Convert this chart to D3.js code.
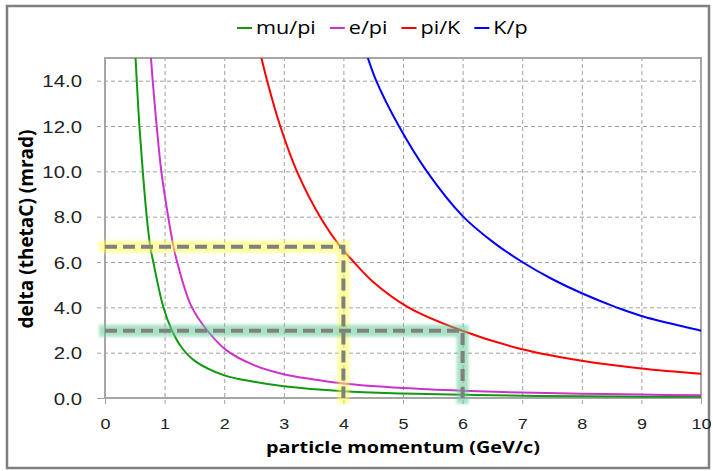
<!DOCTYPE html>
<html lang="en">
<head>
<meta charset="UTF-8">
<title>delta thetaC vs momentum</title>
<style>
    html, body { margin: 0; padding: 0; background: #fff; }
    svg { display: block; font-family: "Open Sans", Lato, sans-serif; }
    .grid .tick line { stroke: #a0a0a0; stroke-width: 1; stroke-dasharray: 4,3; }
    .grid .domain { display: none; }
    .grid text { fill: #222; }
    .curve { fill: none; stroke-width: 2; }
</style>
</head>
<body>
<svg width="713" height="471"></svg>
<script src="https://d3js.org/d3.v7.min.js"></script>
<script>
// values: [momentum GeV/c, delta thetaC mrad]
const momentumTicks = [0, 1, 2, 3, 4, 5, 6, 7, 8, 9, 10];
const deltaTicks = [0, 2, 4, 6, 8, 10, 12, 14];
const seriesNames = ["mu/pi", "e/pi", "pi/K", "K/p"];

const muPi = [[0.48,16.6],[0.533,14.0],[0.577,12.0],[0.634,10.0],[0.70,8.0],[0.76,6.67],[0.81,6.0],
    [0.98,4.0],[1.12,3.0],[1.28,2.25],[1.5,1.65],[2,1.0],[2.5,0.72],[3,0.52],[4,0.3],[5,0.2],
    [6,0.14],[7,0.1],[8,0.08],[9,0.06],[10,0.05]];
const ePi = [[0.75,15.8],[0.80,14.0],[0.867,12.0],[0.945,10.0],[1.06,8.0],[1.15,6.67],[1.21,6.0],
    [1.44,4.1],[1.71,3.0],[2.04,2.1],[2.5,1.45],[3,1.05],[3.5,0.82],[4,0.64],[5,0.44],[6,0.32],
    [7,0.24],[8,0.19],[9,0.15],[10,0.12]];
const piK = [[2.58,15.5],[2.72,14.0],[2.94,12.0],[3.22,10.0],[3.64,7.85],[3.95,6.67],[4.14,6.1],
    [4.5,5.12],[5.09,4.0],[5.96,3.0],[7,2.15],[8,1.64],[9,1.3],[10,1.07]];
const kP = [[4.35,15.5],[4.55,14.0],[4.93,12.0],[5.40,10.0],[6.01,8.0],[6.5,6.9],[7,6.0],
    [7.5,5.25],[8,4.62],[8.58,4.0],[9,3.62],[10,2.97]];

// the two marked working points
const markMomentum = [4, 6];
const markDelta = [6.67, 2.97];

const curveColors = ["#119911", "#cc33cc", "#ff0000", "#0000ff"];
const glowColors = ["#ffff55", "#66cc99"];
const stretch = 1.2; // lettering in the picture is drawn wide

const svg = d3.select("svg");
const x = d3.scaleLinear().domain([0, 10]).range([105, 701]);
const y = d3.scaleLinear().domain([0, 15]).range([398, 58]);

// outer frame
svg.append("rect")
    .attr("x", 7).attr("y", 6).attr("width", 702).attr("height", 462)
    .attr("fill", "#fff").attr("stroke", "#7f7f7f").attr("stroke-width", 2.5);

const defs = svg.append("defs");
defs.append("filter").attr("id", "blur")
    .attr("x", "-20%").attr("y", "-20%").attr("width", "140%").attr("height", "140%")
    .append("feGaussianBlur").attr("stdDeviation", 1.8);
defs.append("clipPath").attr("id", "plotclip")
    .append("rect").attr("x", 105).attr("y", 58).attr("width", 596).attr("height", 340);

// grid + tick labels
const yAxis = svg.append("g").attr("class", "grid")
    .attr("transform", "translate(97,0)")
    .call(d3.axisLeft(y).tickValues(deltaTicks).tickSize(-604).tickPadding(15)
        .tickFormat(d3.format(".1f")));
yAxis.selectAll("text")
    .style("font-size", "17px")
    .attr("x", 0).attr("dy", "0.36em")
    .attr("transform", `translate(-15,0) scale(${stretch},1)`);

const xAxis = svg.append("g").attr("class", "grid")
    .attr("transform", "translate(0,404)")
    .call(d3.axisBottom(x).tickValues(momentumTicks).tickSize(-346).tickPadding(14)
        .tickFormat(d3.format("d")));
xAxis.selectAll("text")
    .style("font-size", "15px")
    .attr("transform", `scale(${stretch},1)`);

// solid ticks on the border lines
yAxis.selectAll(".tick line").filter(d => d === 0).style("stroke-dasharray", "none");
xAxis.selectAll(".tick line").filter(d => d === 0 || d === 10).style("stroke-dasharray", "none");

// plot border
svg.append("rect")
    .attr("x", x(0)).attr("y", y(15)).attr("width", x(10) - x(0)).attr("height", y(0) - y(15))
    .attr("fill", "none").attr("stroke", "#a6a6a6").attr("stroke-width", 2);

// curves
const line = d3.line().x(d => x(d[0])).y(d => y(d[1])).curve(d3.curveCatmullRom.alpha(0.5));
const series = [muPi, ePi, piK, kP];
svg.append("g").attr("clip-path", "url(#plotclip)")
    .selectAll("path").data(series).join("path")
    .attr("class", "curve")
    .attr("stroke", (d, i) => curveColors[i])
    .attr("d", line);

// marked points: glow band then grey dashed guide
const guide = d3.line().x(d => x(d[0])).y(d => y(d[1]));
const marks = markMomentum.map((p, i) => [[0, markDelta[i]], [p, markDelta[i]], [p, 0]]);
svg.append("g").selectAll("path").data(marks).join("path")
    .attr("d", guide)
    .attr("fill", "none")
    .attr("stroke", (d, i) => glowColors[i])
    .attr("stroke-width", 12)
    .attr("stroke-linecap", "square")
    .attr("opacity", 0.55)
    .attr("filter", "url(#blur)");
svg.append("g").selectAll("path").data(marks).join("path")
    .attr("d", guide)
    .attr("fill", "none")
    .attr("stroke", "#808080")
    .attr("stroke-width", 4)
    .attr("stroke-dasharray", "12,6");

// axis titles
svg.append("text")
    .attr("transform", `translate(${x(5)},453) scale(${stretch},1)`)
    .attr("text-anchor", "middle")
    .style("font-size", "16.5px").style("font-weight", "bold")
    .text("particle momentum (GeV/c)");
svg.append("text")
    .attr("transform", "translate(33,229) rotate(-90)")
    .attr("text-anchor", "middle")
    .style("font-size", "19px").style("font-weight", "bold")
    .text("delta (thetaC) (mrad)");

// legend
const legend = svg.append("g").attr("transform", "translate(237,28)");
let lx = 0;
seriesNames.forEach((name, i) => {
    legend.append("line")
        .attr("x1", lx).attr("x2", lx + 15).attr("y1", 0).attr("y2", 0)
        .attr("stroke", curveColors[i]).attr("stroke-width", 2);
    const t = legend.append("text")
        .attr("dy", "0.35em")
        .attr("transform", `translate(${lx + 19},0) scale(${stretch},1)`)
        .style("font-size", "18px")
        .text(name);
    lx += 19 + t.node().getComputedTextLength() * stretch + 14;
});
</script>
</body>
</html>
